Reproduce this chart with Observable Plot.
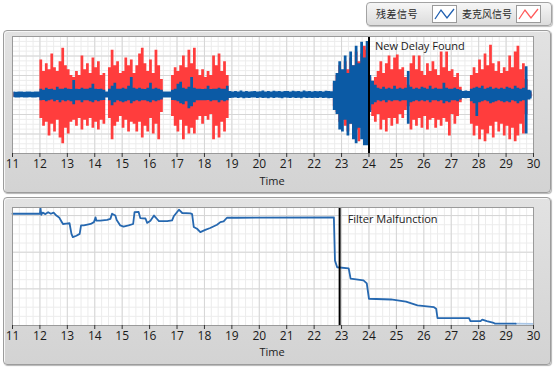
<!DOCTYPE html>
<html><head><meta charset="utf-8">
<script src="https://cdn.jsdelivr.net/npm/d3@7"></script>
<script src="https://cdn.jsdelivr.net/npm/@observablehq/plot@0.6"></script>
<style>
html,body{margin:0;padding:0;}
body{width:554px;height:368px;background:#ffffff;position:relative;overflow:hidden;font-family:"Open Sans","Noto Sans",sans-serif;}
.panel{position:absolute;left:3px;width:546px;background:linear-gradient(#e2e2e2,#d3d3d3);border:1px solid #9c9c9c;border-radius:4px;box-shadow:inset 1px 1px 0 #f6f6f6, 1px 1px 1px #b5b5b5;}
#legend{position:absolute;left:366px;top:2px;width:184px;height:22px;border:1px solid #a3a3a3;border-radius:4px;background:linear-gradient(#f6f6f6,#dcdcdc);box-shadow:1px 1px 1px #c0c0c0;}
#legend .lt{position:absolute;top:3px;font-family:"Noto Sans CJK SC",sans-serif;font-size:10px;color:#2a2a2a;line-height:16px;}
#legend svg{position:absolute;top:2px;background:#fff;border:1px solid #9a9a9a;}
.chart{position:absolute;left:0;}
.tl{position:absolute;font-size:11px;color:#222;width:60px;text-align:center;}
</style></head>
<body>
<div id="legend">
  <span class="lt" style="left:9px;letter-spacing:0.5px">残差信号</span>
  <svg width="23" height="16" style="left:65px"><polyline points="2,13 8,4 14,12 21,3" fill="none" stroke="#1f5fb0" stroke-width="1.3"/></svg>
  <span class="lt" style="left:95px">麦克风信号</span>
  <svg width="23" height="16" style="left:149px"><polyline points="2,13 8,4 14,12 21,3" fill="none" stroke="#ff5a5a" stroke-width="1.3"/></svg>
</div>
<div class="panel" style="top:30px;height:161px;"></div>
<div class="panel" style="top:197px;height:166px;"></div>
<div id="topChart" class="chart" style="top:30px"></div>
<div id="botChart" class="chart" style="top:197px"></div>
<div class="tl" style="left:242px;top:173px">Time</div>
<div class="tl" style="left:242px;top:344px">Time</div>
<script>
// ---- Top graph: amplitude envelopes per 0.1 s bin, starting at t = 11 ----
const sigStart = 11, sigStep = 0.1;
// 麦克风信号 (red) upper envelope
const micHi = [
 .12,.12,.12,.12,.12,.12,.12,.12,.12,.12,
 1.8,1.2,1.6,1.3,2.1,1.4,1.2,1.7,2.4,1.5,
 1.3,1.0,0.9,1.2,1.0,2.0,1.3,1.6,1.1,1.9,
 1.4,1.7,1.0,1.1,.12,1.4,2.3,1.5,1.7,1.1,
 1.2,1.9,1.5,1.8,1.1,1.5,2.1,2.4,1.6,1.2,
 1.8,1.1,2.3,1.5,0.8,.12,.12,.12,1.0,1.4,
 1.2,1.5,2.0,1.4,2.3,1.6,2.4,1.3,1.0,1.3,
 0.9,1.2,1.0,2.0,1.5,2.1,1.2,1.7,1.0,.12,
 .12,.12,.12,.12,.12,.12,.12,.12,.12,.12,
 .12,.12,.12,.12,.12,.12,.12,.12,.12,.12,
 .12,.12,.12,.12,.12,.12,.12,.12,.12,.12,
 .12,.12,.12,.12,.12,.12,.12,0.6,1.0,1.5,
 1.2,1.7,1.3,1.9,1.5,2.2,1.7,2.1,2.5,2.3,
 0.9,0.7,0.9,1.2,1.7,1.1,1.6,2.0,1.3,1.9,
 2.05,1.3,1.4,0.9,0.5,1.6,2.0,1.3,2.0,1.2,
 1.0,1.6,1.2,1.7,1.3,1.0,2.2,1.4,2.2,1.2,
 1.3,0.9,1.1,0.4,.12,.12,.12,1.0,1.4,1.1,
 1.8,1.3,2.1,1.5,2.55,1.6,1.2,1.7,1.1,1.4,
 1.2,2.0,1.4,2.2,2.5,1.3,1.6,0.8,.12,.12
];
// 麦克风信号 (red) lower envelope (magnitude below zero)
const micLo = [
 .12,.12,.12,.12,.12,.12,.12,.12,.12,.12,
 1.2,1.6,1.4,2.1,1.5,1.9,1.3,2.2,2.5,1.7,
 2.0,1.4,1.3,1.6,1.2,1.8,1.3,1.6,1.2,1.7,
 1.4,1.8,1.3,1.5,.12,1.2,2.3,1.6,1.4,1.1,
 1.7,1.3,1.9,1.4,1.5,1.9,1.4,2.2,1.6,1.9,
 1.2,2.0,1.5,2.3,0.9,.12,.12,.12,1.1,1.6,
 1.9,1.3,2.3,1.6,2.0,1.7,2.0,1.3,1.1,1.5,
 1.1,1.3,1.0,2.3,1.6,2.2,1.4,1.9,1.2,.12,
 .12,.12,.12,.12,.12,.12,.12,.12,.12,.12,
 .12,.12,.12,.12,.12,.12,.12,.12,.12,.12,
 .12,.12,.12,.12,.12,.12,.12,.12,.12,.12,
 .12,.12,.12,.12,.12,.12,.12,0.6,0.9,1.4,
 1.3,1.6,1.9,1.5,2.0,1.8,2.4,1.7,2.3,2.1,
 0.8,1.1,1.4,1.0,1.8,1.3,1.9,1.2,1.6,1.2,
 1.5,1.0,1.2,0.8,0.6,1.8,1.3,1.6,1.2,1.7,
 1.1,1.8,1.3,1.2,1.7,1.3,1.6,1.2,1.4,2.1,
 1.0,1.5,1.1,0.4,.12,.12,.12,1.5,2.1,1.6,
 2.3,1.8,2.4,2.0,1.6,2.2,1.4,1.9,1.5,2.1,
 1.6,2.3,1.7,2.4,2.1,1.5,2.0,1.0,.12,.12
];
// 残差信号 (blue) upper envelope
const resHi = [
 .15,.14,.16,.15,.14,.15,.16,.14,.15,.15,
 .3,.25,.35,.28,.3,.25,.4,.3,.3,.35,
 .3,.28,.75,.3,.28,.35,.3,.3,.35,.55,
 .3,.28,.3,.25,.16,.3,.45,.6,.3,.3,
 .35,.3,.45,.9,.35,.3,.35,.3,.28,.35,
 .6,.3,.35,.3,.25,.15,.16,.15,.25,.3,
 .55,.65,.35,.3,.4,.9,.35,.3,.3,.28,
 .3,.45,.28,.3,.3,.35,.3,.3,.45,.18,
 .16,.18,.15,.2,.16,.18,.15,.17,.18,.16,
 .17,.2,.16,.18,.15,.19,.17,.18,.16,.18,
 .18,.16,.19,.17,.18,.16,.2,.17,.18,.16,
 .18,.17,.18,.16,.19,.18,.17,0.7,1.1,1.7,
 1.3,2.0,1.1,2.2,1.5,2.5,1.6,2.7,1.9,2.75,
 1.0,0.7,0.5,0.35,0.3,0.4,0.3,0.35,0.3,0.45,
 0.3,0.35,0.3,0.35,1.2,0.4,0.3,0.35,0.3,0.4,
 0.35,0.3,0.45,0.3,0.35,0.3,0.3,0.6,0.35,0.3,
 0.3,0.35,0.28,0.25,.18,.2,.18,0.3,0.35,0.4,
 0.35,0.45,0.3,0.35,0.4,0.3,0.35,0.3,0.35,0.3,
 0.4,0.35,0.3,0.45,0.35,0.3,0.35,1.45,0.25,0.2
];
// 残差信号 (blue) lower envelope (magnitude below zero)
const resLo = [
 .14,.15,.15,.14,.16,.15,.14,.15,.16,.14,
 .3,.28,.35,.3,.25,.35,.28,.4,.3,.35,
 .3,.35,.5,.3,.3,.4,.3,.3,.35,.4,
 .3,.35,.3,.28,.16,.3,.55,.4,.3,.35,
 .4,.35,.3,.45,.35,.3,.35,.3,.3,.35,
 .4,.3,.35,.3,.25,.15,.15,.16,.28,.3,
 .35,.45,.5,.35,.7,.6,.4,.3,.3,.3,
 .3,.28,.35,.3,.3,.4,.3,.35,.3,.18,
 .17,.15,.18,.16,.19,.17,.18,.16,.15,.18,
 .16,.18,.17,.19,.16,.18,.15,.17,.19,.16,
 .17,.18,.16,.18,.17,.19,.16,.18,.17,.18,
 .17,.18,.16,.18,.17,.19,.18,0.8,1.0,1.8,
 1.9,1.3,2.1,1.5,2.3,2.5,1.7,2.3,2.6,2.6,
 0.9,0.5,0.4,0.3,0.35,0.3,0.4,0.3,0.35,0.3,
 0.3,0.35,0.3,0.3,1.5,0.4,0.35,0.3,0.35,0.3,
 0.35,0.3,0.4,0.3,0.3,0.35,0.3,0.45,0.35,0.4,
 0.3,0.3,0.35,0.25,.18,.19,.18,0.35,0.45,1.1,
 0.4,0.35,0.3,0.35,0.45,0.4,0.35,0.3,0.35,0.4,
 0.35,0.4,0.3,0.35,0.45,0.35,0.3,2.0,0.25,0.2
];
const xTicks = [11,12,13,14,15,16,17,18,19,20,21,22,23,24,25,26,27,28,29,30];
const topEvent = {t: 24.0, label: "New Delay Found"};

// ---- Bottom graph: filter quality trace ----
const filtT = [11,12.0,12.02,12.05,12.1,12.2,12.3,12.4,12.5,12.6,12.7,12.77,12.84,12.96,13.08,13.15,13.2,13.33,13.45,13.5,13.6,13.73,13.85,13.97,14.03,14.06,14.2,14.45,14.57,14.63,14.75,14.8,14.93,15.05,15.23,15.4,15.45,15.6,15.66,15.85,15.91,16.03,16.16,16.28,16.34,16.64,16.82,16.88,17.07,17.19,17.49,17.55,17.61,17.73,17.85,17.91,18.03,18.21,18.46,18.58,18.7,18.82,19.2,22.72,22.76,22.84,23.26,23.33,23.8,23.92,24.0,24.8,25.35,25.77,26.37,26.45,26.5,27.65,27.7,28.07,28.13,28.3,28.55,28.6,29.35];
const filtV = [30.5,30.5,32.1,30.2,30.8,30.4,30.9,30.5,30.8,30.0,29.5,28.6,27.7,27.8,27.9,25.0,24.1,24.5,25.0,27.3,27.3,27.5,27.7,28.2,29.5,28.6,28.6,28.8,29.1,30.5,30.0,28.8,27.3,27.0,27.3,27.7,30.9,31.0,29.3,29.2,28.0,28.6,30.0,29.0,28.5,28.5,28.7,29.8,31.6,30.7,30.6,30.4,26.9,26.4,25.5,25.7,26.1,26.6,27.5,28.2,28.4,29.4,29.4,29.5,17.7,15.9,15.6,12.8,12.3,11.5,7.3,7.1,6.5,5.5,5.0,4.6,2.0,2.0,1.2,1.2,1.6,1.2,0.7,0.5,0.5];
const tailT = [29.35, 30];
const tailV = [0.5, 0.45];
const botEvent = {t: 22.93, label: "Filter Malfunction"};

// ---- build tables ----
const sig = micHi.map((v, i) => ({
  t: sigStart + (i + 0.5) * sigStep,
  mh: v, ml: -micLo[i], rh: resHi[i], rl: -resLo[i]
}));
const filt = filtT.map((t, i) => ({t, v: filtV[i]}));
const tail = tailT.map((t, i) => ({t, v: tailV[i]}));

const RED = "#ff3d3d", BLUE = "#0b5aa5", LINE = "#2668b0";
const minorX = d3.range(11, 30.001, 0.25);
const font = "'Open Sans','Noto Sans',sans-serif";

function grid(yMinor, yMajor) {
  return [
    Plot.frame({fill: "white"}),
    Plot.ruleX(minorX, {stroke: "#ececec", strokeWidth: 1}),
    Plot.ruleY(yMinor, {stroke: "#ececec", strokeWidth: 1}),
    Plot.ruleX(xTicks, {stroke: "#d6d6d6", strokeWidth: 1}),
    Plot.ruleY(yMajor, {stroke: "#d6d6d6", strokeWidth: 1})
  ];
}
function axis() {
  return Plot.axisX(xTicks, {tickSize: 4, tickPadding: 2, fontSize: 12, label: null, stroke: "#333", fill: "#1a1a1a", tickFormat: d => String(d)});
}

const topPlot = Plot.plot({
  width: 554, height: 163,
  marginLeft: 12, marginRight: 21, marginTop: 6, marginBottom: 40,
  style: {background: "transparent", fontFamily: font, overflow: "visible"},
  x: {domain: [11, 30]},
  y: {domain: [-3, 3], axis: null},
  marks: [
    ...grid(d3.range(-3, 3.001, 0.25), d3.range(-3, 3.001, 1)),
    Plot.areaY(sig, {x: "t", y1: "ml", y2: "mh", fill: RED, curve: "step"}),
    Plot.areaY(sig, {x: "t", y1: "rl", y2: "rh", fill: BLUE, curve: "step"}),
    Plot.ruleX([topEvent], {x: "t", stroke: "black", strokeWidth: 2}),
    Plot.text([topEvent], {x: "t", text: "label", frameAnchor: "top", textAnchor: "start", lineAnchor: "middle", dx: 6, dy: 10, fontSize: 11, fill: "#1a1a1a"}),
    Plot.frame({stroke: "#9a9a9a"}),
    axis()
  ]
});
document.getElementById("topChart").append(topPlot);

const botPlot = Plot.plot({
  width: 554, height: 168,
  marginLeft: 12, marginRight: 21, marginTop: 10, marginBottom: 40,
  style: {background: "transparent", fontFamily: font, overflow: "visible"},
  x: {domain: [11, 30]},
  y: {domain: [0, 32.2], axis: null},
  marks: [
    ...grid(d3.range(0, 32.2, 2.5), d3.range(0, 32.2, 10)),
    Plot.line(tail, {x: "t", y: "v", stroke: "#a9c6e6", strokeWidth: 1.8}),
    Plot.line(filt, {x: "t", y: "v", stroke: LINE, strokeWidth: 1.8, curve: "linear"}),
    Plot.ruleX([botEvent], {x: "t", stroke: "black", strokeWidth: 2}),
    Plot.text([botEvent], {x: "t", text: "label", frameAnchor: "top", textAnchor: "start", lineAnchor: "middle", dx: 8, dy: 12, fontSize: 11, fill: "#1a1a1a"}),
    Plot.frame({stroke: "#9a9a9a"}),
    axis()
  ]
});
document.getElementById("botChart").append(botPlot);
</script>
</body></html>
